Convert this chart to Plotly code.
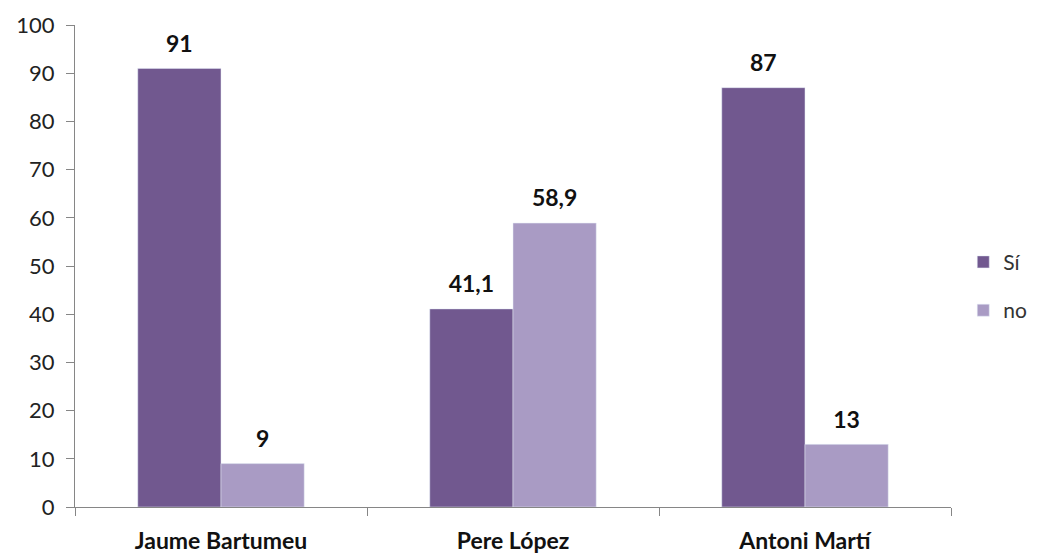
import plotly.graph_objects as go

categories = ["Jaume Bartumeu", "Pere López", "Antoni Martí"]
si_values = [91, 41.1, 87]
no_values = [9, 58.9, 13]
series_names = ["Sí", "no"]
y_ticks = [0, 10, 20, 30, 40, 50, 60, 70, 80, 90, 100]

def fmt(v):
    return (f"{v:g}").replace(".", ",")

FONT = "Lato, 'Open Sans', sans-serif"
dark = "#71588F"
light = "#A99BC4"
GAP = 0.43

fig = go.Figure()
for name, vals, col, grp in [(series_names[0], si_values, dark, "a"),
                             (series_names[1], no_values, light, "b")]:
    fig.add_trace(go.Bar(
        x=categories, y=vals, name=name, marker_color=col,
        legendgroup=grp, hoverinfo="x+y",
    ))
for vals, grp in [(si_values, "a"), (no_values, "b")]:
    fig.add_trace(go.Scatter(
        x=categories, y=vals, mode="markers+text",
        text=[fmt(v) for v in vals], textposition="top center",
        marker=dict(size=16, opacity=0, color="white"),
        textfont=dict(family=FONT, size=23, color="#111", weight="bold"),
        cliponaxis=False, showlegend=False, hoverinfo="skip",
        legendgroup=grp,
    ))

fig.update_layout(
    width=1031, height=546,
    margin=dict(l=67, r=88, t=17, b=47, autoexpand=False),
    paper_bgcolor="white", plot_bgcolor="white",
    barmode="group", bargap=GAP, bargroupgap=0,
    scattermode="group", scattergap=GAP,
    font=dict(family=FONT, size=21, color="#222"),
    showlegend=True,
    legend=dict(x=1.014, y=0.458, xanchor="left", yanchor="middle",
                traceorder="grouped", tracegroupgap=18,
                font=dict(size=21, color="#333"), itemwidth=30),
    xaxis=dict(
        type="category", tickson="boundaries", ticks="outside", ticklen=8,
        tickcolor="#868686", showline=True, linecolor="#868686", linewidth=1,
        tickfont=dict(family=FONT, size=23, color="#111", weight="bold"),
        ticklabelstandoff=13, automargin=False,
    ),
    yaxis=dict(
        range=[0, 100], tickvals=y_ticks, ticks="outside", ticklen=8,
        tickcolor="#868686", showline=True, linecolor="#868686", linewidth=1,
        showgrid=False, zeroline=False,
        tickfont=dict(family=FONT, size=22, color="#222"),
        ticklabelstandoff=7, automargin=False,
    ),
)

fig.write_html("out.html")
